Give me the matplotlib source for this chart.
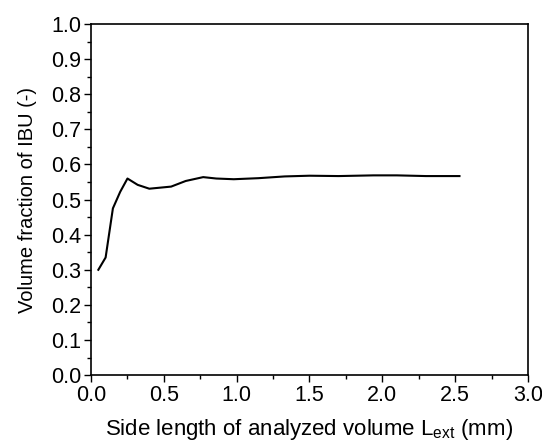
import numpy as np
from matplotlib import pyplot as plt
from matplotlib.ticker import MultipleLocator

plt.rcParams['font.family'] = ['Liberation Sans', 'DejaVu Sans']
plt.rcParams['mathtext.fontset'] = 'custom'
plt.rcParams['mathtext.rm'] = 'Liberation Sans'

# side length L_ext (mm) and volume fraction of IBU
side_len = [0.05, 0.10, 0.15, 0.20, 0.25, 0.32, 0.40, 0.55, 0.65, 0.77, 0.86, 0.98,
            1.15, 1.33, 1.50, 1.70, 1.94, 2.10, 2.30, 2.53]
vol_frac = [0.300, 0.335, 0.475, 0.522, 0.560, 0.542, 0.531, 0.537, 0.553, 0.564, 0.560, 0.558,
            0.561, 0.566, 0.568, 0.567, 0.569, 0.569, 0.567, 0.567]

fig = plt.figure(figsize=(5.42, 4.46), dpi=100)
ax = fig.add_axes([0.168, 0.159, 0.806, 0.787])
ax.plot(side_len, vol_frac, color='black', linewidth=1.5)

ax.set_xlim(0, 3.0)
ax.set_ylim(0, 1.0)
ax.xaxis.set_major_locator(MultipleLocator(0.5))
ax.xaxis.set_minor_locator(MultipleLocator(0.25))
ax.yaxis.set_major_locator(MultipleLocator(0.1))
ax.yaxis.set_minor_locator(MultipleLocator(0.05))
ax.xaxis.set_major_formatter(plt.FormatStrFormatter('%.1f'))
ax.yaxis.set_major_formatter(plt.FormatStrFormatter('%.1f'))
ax.tick_params(which='major', direction='out', length=5, width=1, labelsize=15.5, pad=2)
ax.tick_params(which='minor', direction='out', length=3, width=1)
for s in ax.spines.values():
    s.set_linewidth(1.2)

ax.set_xlabel('Side length of analyzed volume L$_{\\mathregular{ext}}$ (mm)', fontsize=16, labelpad=8)
ax.set_ylabel('Volume fraction of IBU (-)', fontsize=14.5, labelpad=10)

plt.savefig('out.png', dpi=100)
